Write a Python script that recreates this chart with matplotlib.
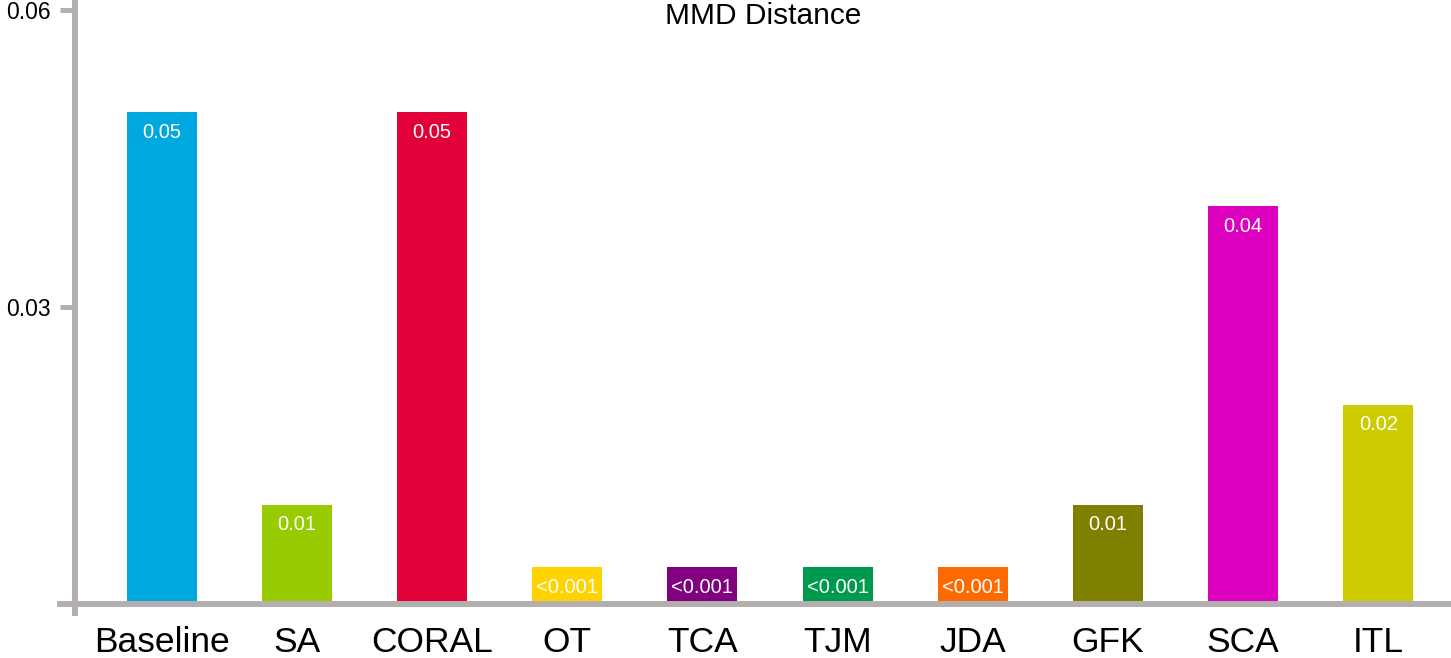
import numpy as np
import matplotlib
matplotlib.use("Agg")
import matplotlib.pyplot as plt

# data
methods = ["Baseline", "SA", "CORAL", "OT", "TCA", "TJM", "JDA", "GFK", "SCA", "ITL"]
mmd = [0.0497, 0.0100, 0.0497, 0.0037, 0.0037, 0.0037, 0.0037, 0.0100, 0.0402, 0.0201]
value_labels = ["0.05", "0.01", "0.05", "<0.001", "<0.001", "<0.001", "<0.001", "0.01", "0.04", "0.02"]
colors = ["#00A8E0", "#99CC00", "#E10038", "#FFD300", "#800080",
          "#009A4E", "#FF6A00", "#808000", "#DD00BF", "#CCCC00"]
yticks = [0.03, 0.06]

plt.rcParams["font.family"] = ["Liberation Sans", "DejaVu Sans"]
axis_grey = "#B3AFAF"

fig = plt.figure(figsize=(14.51, 6.58), dpi=100)
ax = fig.add_axes([60 / 1451, 45 / 658, 1391 / 1451, 613 / 658])

x = np.arange(len(methods))
bars = ax.bar(x, mmd, width=0.518, color=colors, zorder=1)

for b, lab in zip(bars, value_labels):
    ax.annotate(lab, (b.get_x() + b.get_width() / 2, b.get_height()),
                xytext=(0, -14.5), textcoords="offset points",
                ha="center", va="center", color="white", fontsize=14.5)

ax.set_xlim(-0.752, 9.538)
ax.set_ylim(-0.00096, 0.06106)

for s in ["top", "right"]:
    ax.spines[s].set_visible(False)
ax.spines["left"].set_position(("data", -0.641))
ax.spines["bottom"].set_position(("data", 0))
for s in ["left", "bottom"]:
    ax.spines[s].set_color(axis_grey)
    ax.spines[s].set_linewidth(4.3)

ax.set_yticks(yticks)
ax.set_yticklabels(["0.03", "0.06"])
ax.tick_params(axis="y", length=10.8, width=3.6, color=axis_grey,
               labelsize=16.5, pad=7)
ax.set_xticks(x)
ax.set_xticklabels(methods)
ax.tick_params(axis="x", length=0, labelsize=25.5, pad=16)

fig.text(763.5 / 1451, 1 - 23.5 / 658, "MMD Distance", ha="center", va="baseline",
         fontsize=21.5)

fig.savefig("out.png", dpi=100)
